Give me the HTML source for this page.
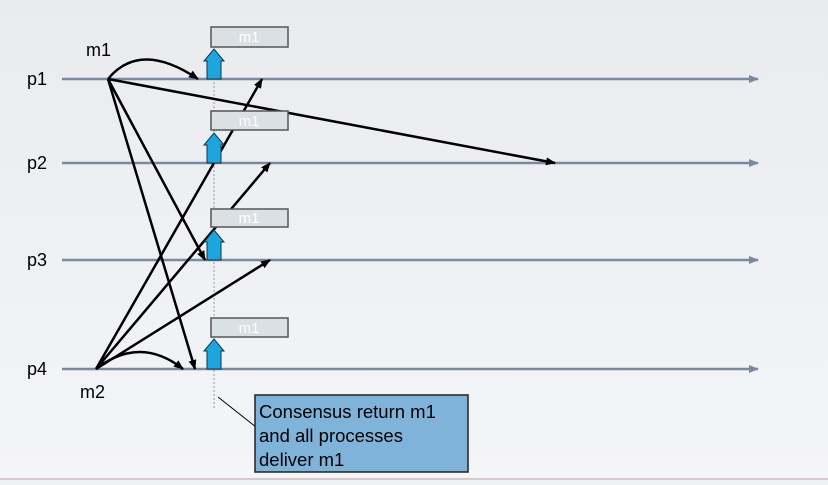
<!DOCTYPE html>
<html><head><style>
body{margin:0;width:828px;height:480px;overflow:hidden;background:#eef0f3;font-family:"Liberation Sans",sans-serif}
</style></head><body>
<svg width="828" height="480" xmlns="http://www.w3.org/2000/svg">
<defs>
<marker id="a" markerWidth="10" markerHeight="8" refX="9" refY="4" orient="auto" markerUnits="userSpaceOnUse"><path d="M0,0L10,4L0,8z" fill="#000"/></marker>
<marker id="g" markerWidth="10" markerHeight="8" refX="9" refY="4" orient="auto" markerUnits="userSpaceOnUse"><path d="M0,0L10,4L0,8z" fill="#7a89a2"/></marker>
<linearGradient id="bg" x1="0" y1="0" x2="0" y2="1"><stop offset="0" stop-color="#e9ebef"/><stop offset="1" stop-color="#f4f5f7"/></linearGradient>
</defs>
<rect width="828" height="480" fill="url(#bg)"/>
<g stroke="#7a89a2" stroke-width="2.5" marker-end="url(#g)">
<line x1="62" y1="79" x2="758" y2="79"/>
<line x1="62" y1="163" x2="758" y2="163"/>
<line x1="62" y1="260" x2="758" y2="260"/>
<line x1="62" y1="369" x2="758" y2="369"/>
</g>
<line x1="214" y1="50" x2="214" y2="408" stroke="#999" stroke-width="1" stroke-dasharray="2,2"/>
<g font-size="18" fill="#000">
<text x="27" y="85">p1</text><text x="27" y="169">p2</text><text x="27" y="266">p3</text><text x="27" y="375">p4</text>
<text x="86" y="56">m1</text><text x="80" y="398">m2</text>
</g>
<g stroke="#000" stroke-width="2.5" fill="none" marker-end="url(#a)">
<path d="M108,79 Q140,40 198,79"/>
<line x1="108" y1="79" x2="555" y2="163"/>
<line x1="108" y1="79" x2="205" y2="260"/>
<line x1="108" y1="79" x2="195" y2="369"/>
<path d="M96,369 Q140,335 183,369"/>
<line x1="96" y1="369" x2="262" y2="79"/>
<line x1="96" y1="369" x2="270" y2="163"/>
<line x1="96" y1="369" x2="270" y2="260"/>
</g>
<g>
<rect x="211" y="27" width="77" height="20" fill="#dbe0e5" stroke="#555" stroke-width="1.5"/><text x="249" y="42" font-size="15" fill="#fff" text-anchor="middle">m1</text>
<path d="M207,79V61H204L214,49L224,61H221V79Z" fill="#1ea6dc" stroke="#135" stroke-width="1"/>
<rect x="211" y="111" width="77" height="19" fill="#dbe0e5" stroke="#555" stroke-width="1.5"/><text x="249" y="126" font-size="15" fill="#fff" text-anchor="middle">m1</text>
<path d="M207,163V145H204L214,133L224,145H221V163Z" fill="#1ea6dc" stroke="#135" stroke-width="1"/>
<rect x="211" y="209" width="77" height="18" fill="#dbe0e5" stroke="#555" stroke-width="1.5"/><text x="249" y="223" font-size="15" fill="#fff" text-anchor="middle">m1</text>
<path d="M207,260V242H204L214,230L224,242H221V260Z" fill="#1ea6dc" stroke="#135" stroke-width="1"/>
<rect x="211" y="318" width="77" height="19" fill="#dbe0e5" stroke="#555" stroke-width="1.5"/><text x="249" y="333" font-size="15" fill="#fff" text-anchor="middle">m1</text>
<path d="M207,369V351H204L214,339L224,351H221V369Z" fill="#1ea6dc" stroke="#135" stroke-width="1"/>
</g>
<line x1="218" y1="397" x2="256" y2="427" stroke="#000" stroke-width="1"/>
<rect x="255" y="395" width="213" height="77" fill="#7fb3da" stroke="#222" stroke-width="1.5"/>
<g font-size="18.5" fill="#000"><text x="259" y="418">Consensus return m1</text><text x="259" y="442">and all processes</text><text x="259" y="466">deliver m1</text></g>
<rect x="0" y="478" width="828" height="2" fill="#d8c9cf"/>
</svg>
</body></html>
